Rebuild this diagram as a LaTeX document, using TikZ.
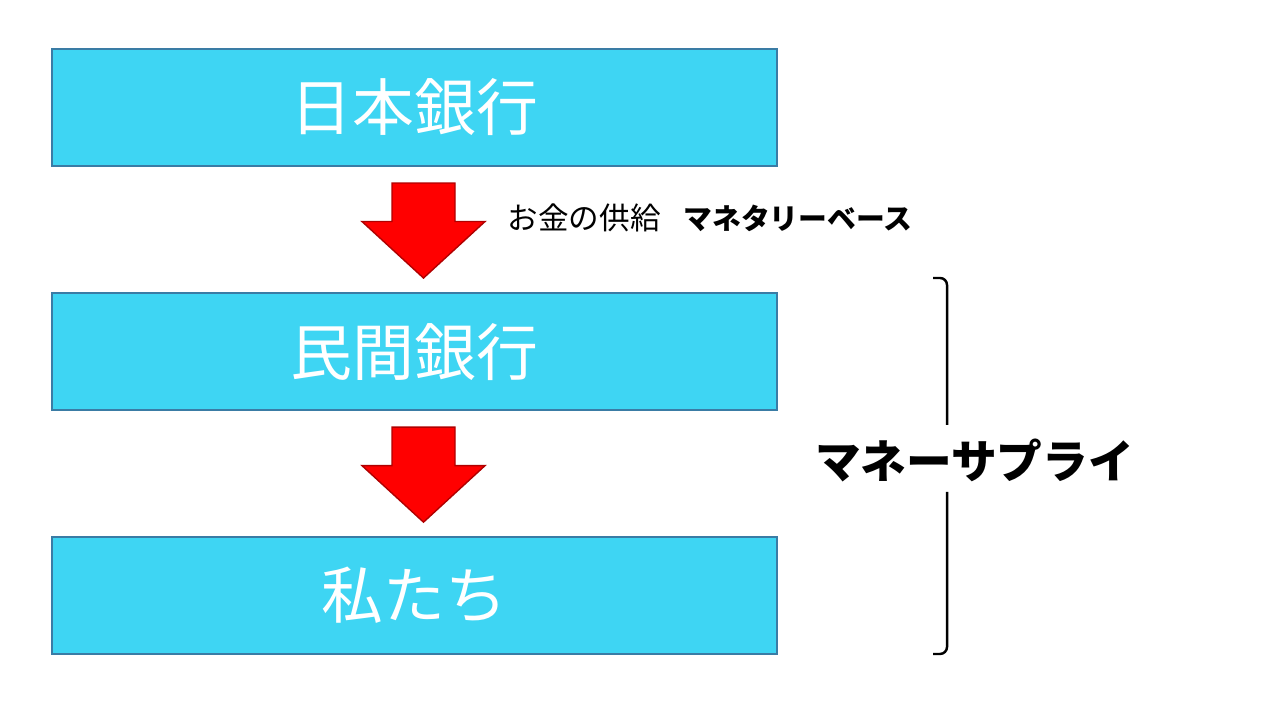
\documentclass[tikz,border=0pt]{standalone}
\usepackage{fontspec}
\setmainfont{Noto Sans CJK JP}
\usepackage{tikz}
\usetikzlibrary{positioning,calc}
\definecolor{bankcyan}{HTML}{3ED5F3}
\definecolor{bankedge}{HTML}{3A7CA5}
\definecolor{flowred}{HTML}{FF0000}
\definecolor{flowedge}{HTML}{B00000}

\begin{document}
\begin{tikzpicture}[
    node distance=1.25cm,
    bank/.style={draw=bankedge, line width=0.6pt, fill=bankcyan, text=white, minimum width=7.25cm, minimum height=1.17cm, inner sep=0pt, font=\fontsize{17.6pt}{20pt}\selectfont},
    note/.style={anchor=west, inner sep=0pt, font=\fontsize{8.7pt}{10pt}\selectfont},
    supplytext/.style={inner sep=0pt, font=\fontsize{13pt}{15pt}\selectfont\bfseries},
    bracket/.style={line width=0.7pt, rounded corners=2pt},
    fatarrow/.style={draw=flowedge, line width=0.4pt, fill=flowred, to path={
        let \p1=(\tikztostart.south), \p2=(\tikztotarget.north) in
        (\x1+0.09cm-0.315cm,\y1-0.16cm) -- (\x1+0.09cm+0.315cm,\y1-0.16cm)
        -- (\x1+0.09cm+0.315cm,\y1/2+\y2/2+0.08cm) -- (\x1+0.09cm+0.615cm,\y1/2+\y2/2+0.08cm)
        -- (\x1+0.09cm,\y2+0.14cm)
        -- (\x1+0.09cm-0.615cm,\y1/2+\y2/2+0.08cm) -- (\x1+0.09cm-0.315cm,\y1/2+\y2/2+0.08cm)
        -- cycle}}
]
\useasboundingbox (0,0) rectangle (12.8,7.2);
% the three boxes
\node[bank] (boj) at (4.145,6.125) {日本銀行};
\node[bank, below=of boj] (commercial) {民間銀行};
\node[bank, below=of commercial] (us) {私たち};
% red arrows
\draw[fatarrow] (boj) to (commercial);
\draw[fatarrow] (commercial) to (us);
\node[note] (supplynote) at (5.07,5.02) {お金の供給\hspace{0.75em}{\fontsize{8.2pt}{10pt}\selectfont\bfseries マネタリーベース}};
% bracket and label
\node[supplytext] (supply) at (9.745,2.6) {マネーサプライ};
\coordinate (brtop) at (9.33,4.42);
\coordinate (brgaptop) at (9.47,2.95);
\coordinate (brgapbot) at (9.47,2.28);
\coordinate (brbot) at (9.33,0.66);
\draw[bracket] (brtop) -| (brgaptop);
\draw[bracket] (brgapbot) |- (brbot);
\end{tikzpicture}
\end{document}
